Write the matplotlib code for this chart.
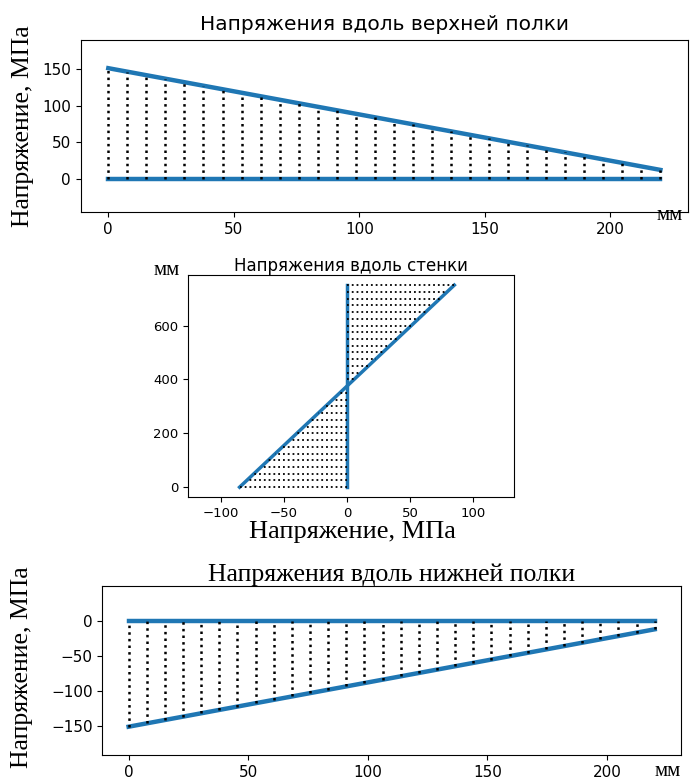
import matplotlib
matplotlib.use('Agg')
import matplotlib.pyplot as plt
import numpy as np

# верхняя полка: координата, мм и напряжение, МПа
top_x = [0, 220]
top_s = [151.5, 12.5]
# стенка: координата, мм и напряжение, МПа
web_y = [0, 750]
web_s = [-85, 85]
# нижняя полка
bot_x = [0, 220]
bot_s = [-151.5, -12]

n_flange = 30
n_web = 31

W, H = 692, 782
BLUE = '#1f77b4'
SERIF = 'Liberation Serif'


def box(l, t, r, b):
    return [l / W, 1 - b / H, (r - l) / W, (b - t) / H]


def px(x, y):
    return x / W, 1 - y / H


fig = plt.figure(figsize=(W / 100, H / 100), dpi=100)

# Верхняя полка
ax1 = fig.add_axes(box(80.7, 40, 688, 212))
ax1.plot(top_x, top_s, color=BLUE, lw=3.2)
ax1.plot(top_x, [0, 0], color=BLUE, lw=3.2)
xs = np.linspace(top_x[0], top_x[-1], n_flange)
ax1.vlines(xs, 0, np.interp(xs, top_x, top_s), colors='k',
           linestyles=':', lw=1.8, zorder=3)
ax1.set_ylim(-45, 190)
ax1.set_yticks([0, 50, 100, 150])
ax1.set_title('Напряжения вдоль верхней полки', fontsize=14.5, pad=7)
ax1.tick_params(labelsize=11)
fig.text(*px(23, 126), 'Напряжение, МПа', family=SERIF, fontsize=18.5,
         rotation=90, ha='center', va='center')
fig.text(*px(670, 216), 'мм', family=SERIF, fontsize=15,
         ha='center', va='center')

# Стенка
ax2 = fig.add_axes(box(188.3, 275, 514.3, 497.3))
ax2.plot(web_s, web_y, color=BLUE, lw=2.5)
ax2.plot([0, 0], web_y, color=BLUE, lw=2.5)
ys = np.linspace(web_y[0], web_y[-1], n_web)
ax2.hlines(ys, 0, np.interp(ys, web_y, web_s), colors='k',
           linestyles=':', lw=1.3, zorder=3)
ax2.set_xlim(-125.6, 132.5)
ax2.set_title('Напряжения вдоль стенки', fontsize=12, pad=3)
ax2.tick_params(labelsize=9.5)
fig.text(*px(167, 270), 'мм', family=SERIF, fontsize=15,
         ha='center', va='center')
fig.text(*px(352, 532), 'Напряжение, МПа', family=SERIF, fontsize=19,
         ha='center', va='center')

# Нижняя полка
ax3 = fig.add_axes(box(102.3, 586, 681, 755))
ax3.plot(bot_x, [0, 0], color=BLUE, lw=3.2)
ax3.plot(bot_x, bot_s, color=BLUE, lw=3.2)
xs = np.linspace(bot_x[0], bot_x[-1], n_flange)
ax3.vlines(xs, np.interp(xs, bot_x, bot_s), 0, colors='k',
           linestyles=':', lw=1.8, zorder=3)
ax3.set_ylim(-192, 50)
ax3.set_yticks([-150, -100, -50, 0])
ax3.set_title('Напряжения вдоль нижней полки', family=SERIF, fontsize=18.5, pad=2)
ax3.tick_params(labelsize=11)
fig.text(*px(22, 667), 'Напряжение, МПа', family=SERIF, fontsize=18.5,
         rotation=90, ha='center', va='center')
fig.text(*px(668, 772), 'мм', family=SERIF, fontsize=15,
         ha='center', va='center')

fig.savefig('out.png', dpi=100)
